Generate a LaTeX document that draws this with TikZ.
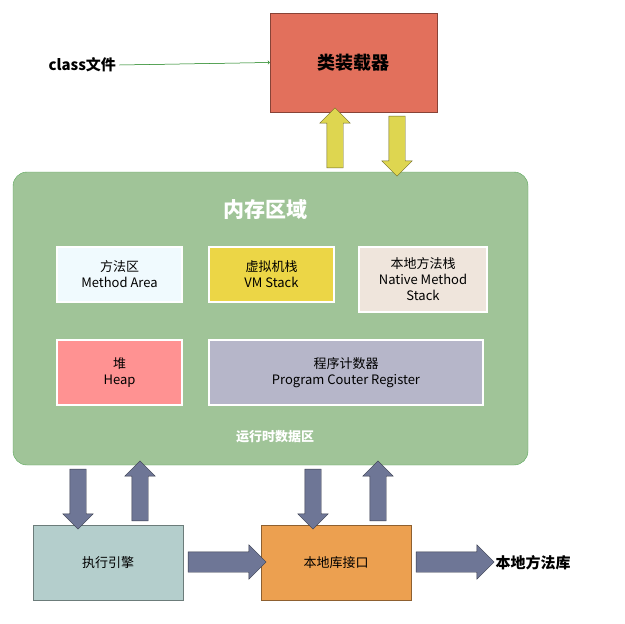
\documentclass[tikz,border=0pt]{standalone}
\usepackage{fontspec}
\setmainfont{Noto Sans CJK SC}
\usetikzlibrary{shapes.arrows}
\definecolor{ya}{RGB}{222,214,80}
\definecolor{ba}{RGB}{110,118,150}
\definecolor{redb}{RGB}{226,112,92}
\definecolor{vmy}{RGB}{236,214,70}
\definecolor{memg}{RGB}{160,196,152}
\definecolor{teb}{RGB}{180,206,204}
\definecolor{orb}{RGB}{236,160,80}
\begin{document}
\begin{tikzpicture}[x=1pt,y=-1pt,
 box/.style={draw=#1!60!black,line width=0.6pt,minimum height=0pt,inner sep=0pt,align=center,font=\fontsize{13}{15}\selectfont},
 inbox/.style={draw=white,line width=1.5pt,align=center,inner sep=0pt,font=\fontsize{13}{16}\selectfont},
 fat/.style={single arrow,draw=#1!50!black,fill=#1,single arrow head extend=7pt,single arrow tip angle=90,inner xsep=0pt,inner ysep=8pt,minimum height=0pt}]
\useasboundingbox (0,0) rectangle (624,624);
% class loader
\node[box=redb,fill=redb,minimum width=167pt,minimum height=99pt,font=\fontsize{18}{20}\selectfont\bfseries] (cl) at (353.5,62.5) {类装载器};
\node[font=\fontsize{15}{17}\selectfont\bfseries,anchor=west] (cf) at (45,65) {class文件};
\draw[->,green!45!black,line width=0.5pt] (cf.east) -- (cl.west);
% memory area
\node[draw=green!30!gray,fill=memg,rounded corners=14pt,minimum width=515pt,minimum height=293pt] (mem) at (270.5,318.5) {};
\node[text=white,font=\fontsize{21}{23}\selectfont\bfseries] (t) at (265,210) {内存区域};
\node[text=white,font=\fontsize{13}{15}\selectfont\bfseries] (rt) at (275,437) {运行时数据区};
\node[inbox,fill=cyan!6!white,minimum width=125pt,minimum height=55pt] (ma) at (119.5,274.5) {方法区\\Method Area};
\node[inbox,fill=vmy,minimum width=125pt,minimum height=55pt] (vm) at (271.5,274.5) {虚拟机栈\\VM Stack};
\node[inbox,fill=gray!25!brown!20,minimum width=128pt,minimum height=65pt] (na) at (423,279.5) {本地方法栈\\Native Method\\Stack};
\node[inbox,fill=red!30!pink!90,minimum width=125pt,minimum height=65pt] (hp) at (119.5,372.5) {堆\\Heap};
\node[inbox,fill=blue!15!gray!50,minimum width=274pt,minimum height=65pt] (pc) at (346,372.5) {程序计数器\\Program Couter Register};
% bottom
\node[box=teb,fill=teb,minimum width=150pt,minimum height=75pt] (ee) at (108,562.5) {执行引擎};
\node[box=orb,fill=orb,minimum width=150pt,minimum height=75pt] (nl) at (336,562.5) {本地库接口};
\node[font=\fontsize{15}{17}\selectfont\bfseries,anchor=west] (nm) at (492,563) {本地方法库};
% yellow arrows
\node[fat=ya,minimum height=60pt,rotate=90] (y1) at (335,142) {};
\node[fat=ya,minimum height=60pt,rotate=-90] (y2) at (397,142) {};
% blue arrows
\foreach \x/\r [count=\i] in {78/-90,140/90,313/-90,378/90}
 \node[fat=ba,minimum height=60pt,rotate=\r] (b\i) at (\x,495) {};
\node[fat=ba,minimum height=78pt,inner ysep=10pt] (h1) at (222,562) {};
\node[fat=ba,minimum height=78pt,inner ysep=10pt] (h2) at (450,562) {};
\end{tikzpicture}
\end{document}
